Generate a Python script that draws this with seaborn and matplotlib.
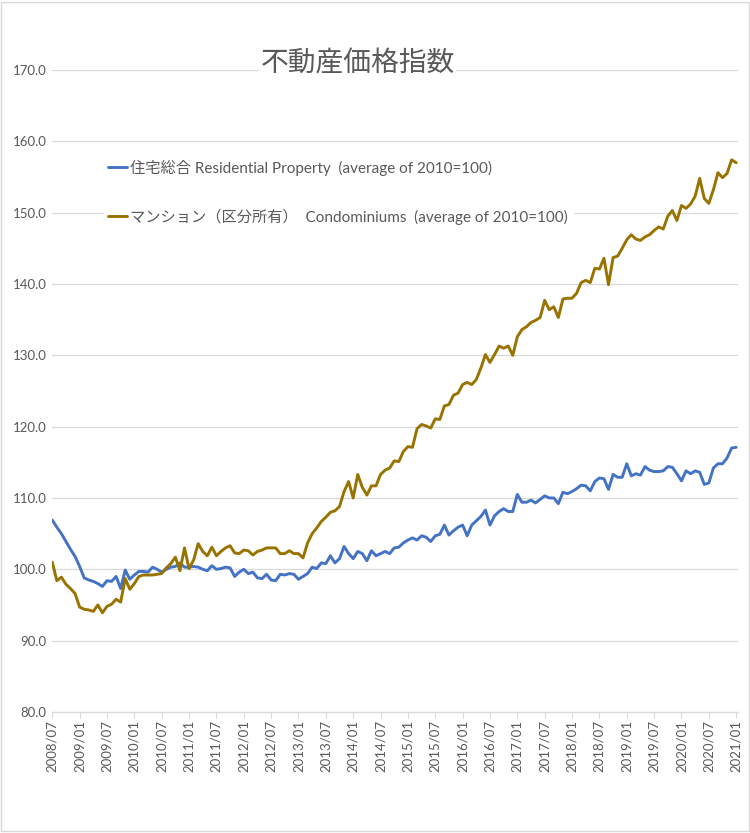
import numpy as np
import pandas as pd
import matplotlib
matplotlib.use("Agg")
import matplotlib.pyplot as plt
import seaborn as sns

# monthly index values, 2008/07 .. 2021/01 (2010 average = 100)
months = list(pd.period_range("2008-07", "2021-01", freq="M").strftime("%Y/%m"))

residential = [
    106.9, 105.9, 105.0, 103.9, 102.8, 101.8, 100.4, 98.8, 98.5, 98.3, 98.0, 97.6,
    98.4, 98.3, 99.0, 97.3, 99.9, 98.6, 99.2, 99.7, 99.7, 99.6, 100.3, 100.0,
    99.6, 100.0, 100.3, 100.4, 100.9, 100.3, 100.3, 100.4, 100.3, 100.0, 99.8, 100.5,
    100.0, 100.1, 100.3, 100.2, 99.0, 99.6, 100.0, 99.4, 99.6, 98.8, 98.7, 99.3,
    98.5, 98.4, 99.3, 99.2, 99.4, 99.3, 98.6, 99.0, 99.4, 100.3, 100.1, 100.9,
    100.8, 101.9, 100.9, 101.5, 103.2, 102.2, 101.5, 102.5, 102.2, 101.2, 102.6, 101.9,
    102.2, 102.5, 102.2, 103.0, 103.1, 103.7, 104.1, 104.4, 104.1, 104.7, 104.5, 103.9,
    104.7, 104.9, 106.2, 104.8, 105.4, 105.9, 106.2, 104.7, 106.2, 106.8, 107.4, 108.3,
    106.2, 107.5, 108.1, 108.5, 108.1, 108.1, 110.5, 109.4, 109.4, 109.7, 109.3, 109.8,
    110.3, 110.0, 110.0, 109.2, 110.8, 110.6, 110.9, 111.3, 111.8, 111.7, 111.0, 112.3,
    112.8, 112.7, 111.2, 113.3, 112.9, 112.9, 114.8, 113.1, 113.4, 113.2, 114.4, 113.9,
    113.7, 113.7, 113.8, 114.4, 114.3, 113.4, 112.4, 113.8, 113.4, 113.8, 113.6, 111.9,
    112.1, 114.2, 114.8, 114.8, 115.6, 117.0, 117.1,
]

condominiums = [
    101.0, 98.4, 98.9, 97.9, 97.3, 96.6, 94.7, 94.4, 94.3, 94.1, 95.0, 93.9,
    94.8, 95.1, 95.8, 95.4, 98.7, 97.2, 98.0, 99.0, 99.2, 99.2, 99.2, 99.3,
    99.4, 100.2, 100.8, 101.7, 99.8, 103.0, 100.1, 101.3, 103.6, 102.5, 101.9, 103.1,
    101.9, 102.5, 103.0, 103.3, 102.3, 102.2, 102.7, 102.6, 102.0, 102.5, 102.7, 103.0,
    103.0, 103.0, 102.2, 102.2, 102.6, 102.2, 102.2, 101.6, 103.7, 105.0, 105.8, 106.7,
    107.3, 108.0, 108.2, 108.8, 110.9, 112.3, 110.0, 113.3, 111.5, 110.4, 111.7, 111.7,
    113.3, 113.9, 114.2, 115.2, 115.1, 116.5, 117.2, 117.1, 119.7, 120.3, 120.1, 119.8,
    121.1, 121.0, 122.9, 123.1, 124.4, 124.7, 125.9, 126.2, 125.9, 126.6, 128.2, 130.1,
    129.0, 130.1, 131.3, 131.0, 131.3, 130.0, 132.6, 133.6, 134.0, 134.6, 134.9, 135.3,
    137.7, 136.4, 136.8, 135.3, 137.9, 138.0, 138.0, 138.7, 140.2, 140.5, 140.2, 142.2,
    142.1, 143.6, 139.9, 143.7, 143.9, 145.0, 146.2, 146.9, 146.3, 146.1, 146.6, 146.9,
    147.5, 148.0, 147.7, 149.5, 150.3, 148.9, 151.0, 150.6, 151.2, 152.3, 154.8, 152.0,
    151.3, 153.2, 155.6, 154.9, 155.5, 157.4, 157.0,
]

series_names = [
    "住宅総合 Residential Property  (average of 2010=100)",
    "マンション（区分所有）  Condominiums  (average of 2010=100)",
]
series_colors = ["#4472C4", "#997300"]
title = "不動産価格指数"
tick_labels = months[::6]

df = pd.DataFrame({
    "month": months * 2,
    "index": residential + condominiums,
    "series": [series_names[0]] * len(months) + [series_names[1]] * len(months),
})

sns.set_style("white")
plt.rcParams["font.family"] = ["Lato", "Noto Sans CJK JP", "DejaVu Sans"]
text_gray = "#595959"
grid_gray = "#d9d9d9"

fig = plt.figure(figsize=(7.5, 8.33), dpi=100)
ax = fig.add_axes([0.0697, 0.1453, 0.9143, 0.7707])

sns.lineplot(data=df, x="month", y="index", hue="series", palette=series_colors,
             linewidth=2.1, ax=ax, sort=False)

ax.set_ylim(80, 170)
ax.set_yticks(np.arange(80, 171, 10))
ax.set_yticklabels([f"{v:.1f}" for v in np.arange(80, 171, 10)])
ax.set_xlim(0, 150.4)
ax.set_xticks(range(0, len(months), 6))
ax.set_xticklabels(tick_labels, rotation=90)
ax.set_xlabel("")
ax.set_ylabel("")

ax.grid(axis="y", color=grid_gray, linewidth=0.9)
ax.grid(axis="x", visible=False)
ax.set_axisbelow(True)
for side in ["left", "right", "top"]:
    ax.spines[side].set_visible(False)
ax.spines["bottom"].set_color(grid_gray)
ax.spines["bottom"].set_linewidth(0.9)
ax.tick_params(axis="x", colors=text_gray, labelsize=9.5, length=4, width=0.8,
               color=grid_gray, pad=2, bottom=True)
ax.tick_params(axis="y", colors=text_gray, labelsize=9.5, length=0, pad=4)

leg = ax.legend(loc="upper left", bbox_to_anchor=(0.138, 0.814),
                bbox_transform=fig.transFigure, frameon=True, fontsize=11,
                handlelength=1.25, handletextpad=0.2, labelspacing=2.15,
                borderpad=0.3, borderaxespad=0)
leg.get_frame().set_facecolor("white")
leg.get_frame().set_edgecolor("white")
leg.get_frame().set_alpha(1)
for t in leg.get_texts():
    t.set_color(text_gray)

fig.text(0.477, 0.924, title, ha="center", va="center", fontsize=20,
         color=text_gray, family=["Noto Sans CJK JP"],
         bbox=dict(facecolor="white", edgecolor="none", pad=1))

fig.patches.append(plt.Rectangle((0.001, 0.002), 0.997, 0.996, transform=fig.transFigure,
                                 fill=False, edgecolor=grid_gray, linewidth=1))

fig.savefig("out.png", dpi=100)
